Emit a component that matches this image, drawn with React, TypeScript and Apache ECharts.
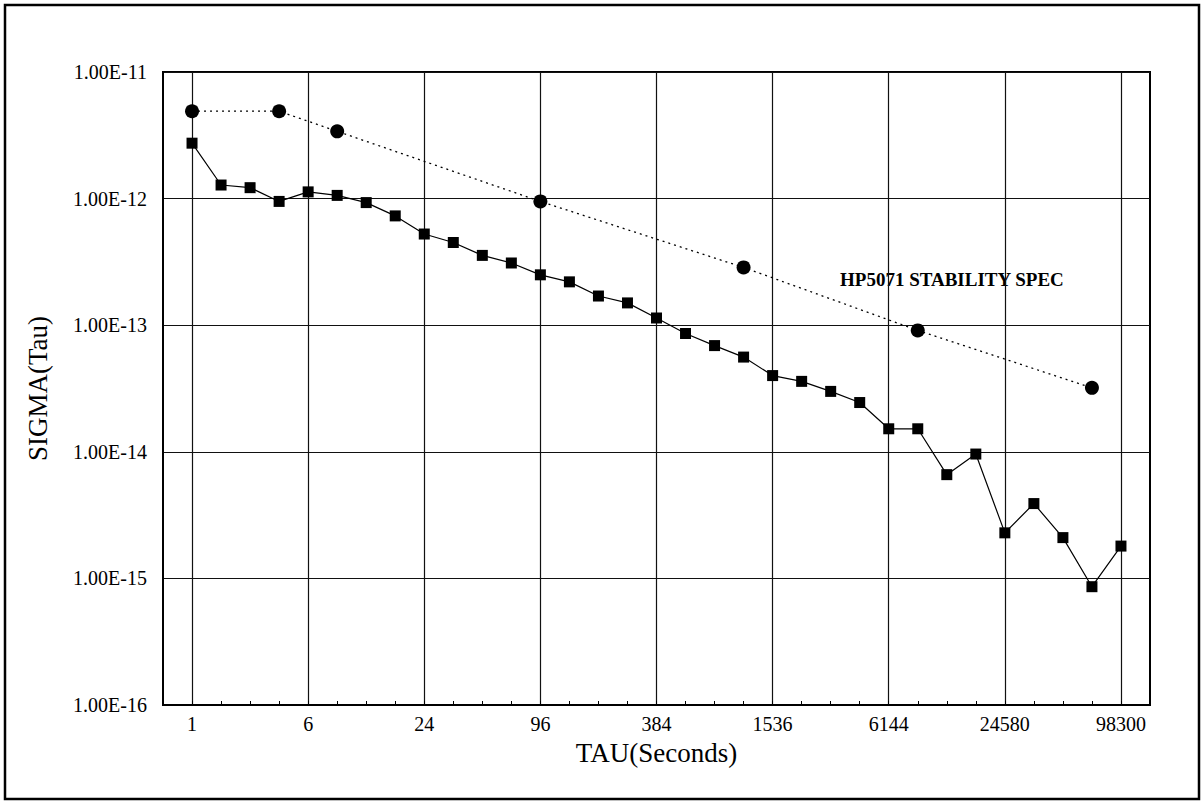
import React, { useEffect, useRef } from "react";
import * as echarts from "echarts";

// Averaging times (seconds), one category per measurement
const tauCats = ["1", "2", "3", "4", "6", "8", "12", "16", "24", "32", "48", "64", "96", "128", "192", "256", "384", "512", "768", "1024", "1536", "2048", "3072", "4096", "6144", "8192", "12288", "16384", "24580", "32770", "49150", "65540", "98300"];
// Labelled ticks on the TAU axis
const tickLabels = ["1", "6", "24", "96", "384", "1536", "6144", "24580", "98300"];
// Measured SIGMA(Tau) (squares)
const measured = [2.74e-12, 1.28e-12, 1.22e-12, 9.5e-13, 1.13e-12, 1.06e-12, 9.3e-13, 7.3e-13, 5.25e-13, 4.5e-13, 3.56e-13, 3.1e-13, 2.5e-13, 2.2e-13, 1.7e-13, 1.5e-13, 1.14e-13, 8.6e-14, 6.9e-14, 5.6e-14, 4.0e-14, 3.6e-14, 3.0e-14, 2.45e-14, 1.52e-14, 1.52e-14, 6.6e-15, 9.6e-15, 2.29e-15, 3.9e-15, 2.1e-15, 8.6e-16, 1.8e-15];
// HP5071 stability spec (circles)
const specTau = ["1", "4", "8", "96", "1024", "8192", "65540"];
const specValues = [4.9e-12, 4.9e-12, 3.4e-12, 9.5e-13, 2.86e-13, 9.1e-14, 3.2e-14];

const axisCats = ["lo", ...tauCats, "hi"];
const FONT = "'Liberation Serif', 'Times New Roman', serif";

export default function App() {
  const ref = useRef<HTMLDivElement>(null);
  useEffect(() => {
    if (!ref.current) return;
    const chart = echarts.init(ref.current, null, { renderer: "svg" });
    const isLabelled = (_i: number, v: string) => tickLabels.includes(v);
    chart.setOption({
      animation: false,
      backgroundColor: "#fff",
      grid: { left: 163, top: 72, right: 52, bottom: 97, show: true, borderColor: "#000", borderWidth: 2 },
      xAxis: {
        type: "category",
        data: axisCats,
        boundaryGap: false,
        name: "TAU(Seconds)",
        nameLocation: "middle",
        nameGap: 34,
        nameTextStyle: { fontFamily: FONT, fontSize: 27, color: "#000" },
        axisLine: { show: true, lineStyle: { color: "#000", width: 2 } },
        axisTick: { show: true, inside: true, length: 4, interval: 0, lineStyle: { color: "#000" } },
        axisLabel: { interval: isLabelled, fontFamily: FONT, fontSize: 20, color: "#000", margin: 9 },
        splitLine: { show: true, interval: isLabelled, lineStyle: { color: "#111", width: 1.2 } },
      },
      yAxis: {
        type: "log",
        logBase: 10,
        min: 1e-16,
        max: 1e-11,
        name: "SIGMA(Tau)",
        nameLocation: "middle",
        nameGap: 112,
        nameTextStyle: { fontFamily: FONT, fontSize: 27, color: "#000" },
        axisLine: { show: true, lineStyle: { color: "#000", width: 2 } },
        axisTick: { show: false },
        axisLabel: {
          fontFamily: FONT,
          fontSize: 20,
          color: "#000",
          margin: 16,
          formatter: (v: number) => v.toExponential(2).toUpperCase(),
        },
        splitLine: { show: true, lineStyle: { color: "#111", width: 1.2 } },
      },
      graphic: [
        {
          type: "rect",
          shape: { x: 5, y: 5, width: 1194, height: 794 },
          style: { fill: "none", stroke: "#000", lineWidth: 2.5 },
          silent: true,
        },
        {
          type: "text",
          x: 840,
          y: 279,
          style: {
            text: "HP5071 STABILITY SPEC",
            fontFamily: FONT,
            fontWeight: "bold",
            fontSize: 19,
            fill: "#000",
            verticalAlign: "middle",
          },
        },
      ],
      series: [
        {
          type: "line",
          name: "Measured",
          data: tauCats.map((t, i) => [t, measured[i]]),
          symbol: "rect",
          symbolSize: 11,
          itemStyle: { color: "#000" },
          lineStyle: { color: "#000", width: 1.2 },
        },
        {
          type: "line",
          name: "HP5071 STABILITY SPEC",
          data: specTau.map((t, i) => [t, specValues[i]]),
          symbol: "circle",
          symbolSize: 14,
          itemStyle: { color: "#000" },
          lineStyle: { color: "#000", width: 1.3, type: [2, 4] },
        },
      ],
    });
    return () => chart.dispose();
  }, []);
  return <div ref={ref} style={{ position: "fixed", left: 0, top: 0, width: 1202, height: 802 }} />;
}
